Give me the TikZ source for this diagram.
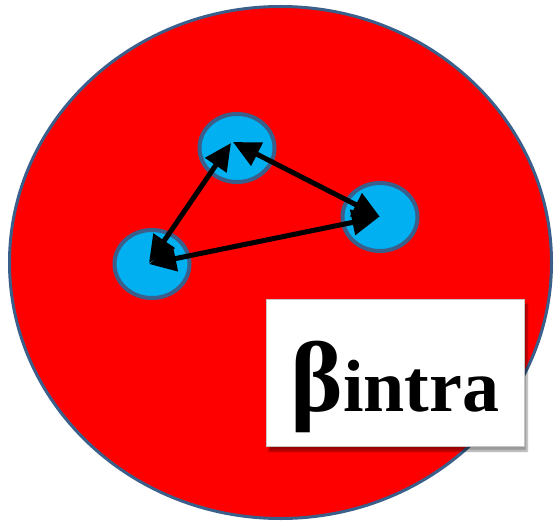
\documentclass[tikz,border=0pt]{standalone}
\usepackage{fontspec}
\setmainfont{Liberation Serif}
\newfontfamily\tagfont{Liberation Serif Bold}
\usetikzlibrary{arrows.meta, shapes.geometric, shadows, shadows.blur}
\definecolor{ringblue}{RGB}{58,95,139}
\definecolor{cellblue}{RGB}{0,176,240}
\definecolor{bgred}{RGB}{255,0,0}

\begin{document}
\begin{tikzpicture}[x=1pt, y=-1pt,
  group/.style={ellipse, draw=ringblue, fill=bgred, line width=3pt,
                minimum width=542pt, minimum height=512pt, inner sep=0pt},
  cell/.style={ellipse, draw=ringblue, fill=cellblue, line width=4pt,
               minimum width=75pt, minimum height=68pt, inner sep=0pt},
  arr/.style={{Triangle[length=27pt, width=25pt]}-{Triangle[length=27pt, width=25pt]},
              line width=5pt, black},
  tag/.style={rectangle, fill=white, draw=gray!45, line width=1pt,
              minimum width=258pt, minimum height=147pt, inner sep=0pt,
              text height=80pt, text depth=2pt, font=\tagfont,
              blur shadow={shadow xshift=3pt, shadow yshift=-5pt, shadow blur steps=6}},
]
  \useasboundingbox (0,0) rectangle (554,524);

  \node[group] (grp) at (280.5,262.5) {};

  \node[cell] (ct) at (237,148) {};
  \node[cell] (cr) at (380,217) {};
  \node[cell] (cl) at (152,264) {};

  \draw[arr] ([shift={(-6,-5)}]ct.center) -- ([shift={(-3,-1)}]cl.center);
  \draw[arr] ([shift={(-4,-6)}]ct.center) -- (cr.center);
  \draw[arr] ([shift={(-1,0)}]cr.center) -- ([shift={(-3,0)}]cl.center);

  % label box
  \node[tag] (beta) at (395,372.5)
    {{\fontsize{100}{100}\selectfont β}{\fontsize{74}{74}\selectfont intra}};
\end{tikzpicture}
\end{document}
